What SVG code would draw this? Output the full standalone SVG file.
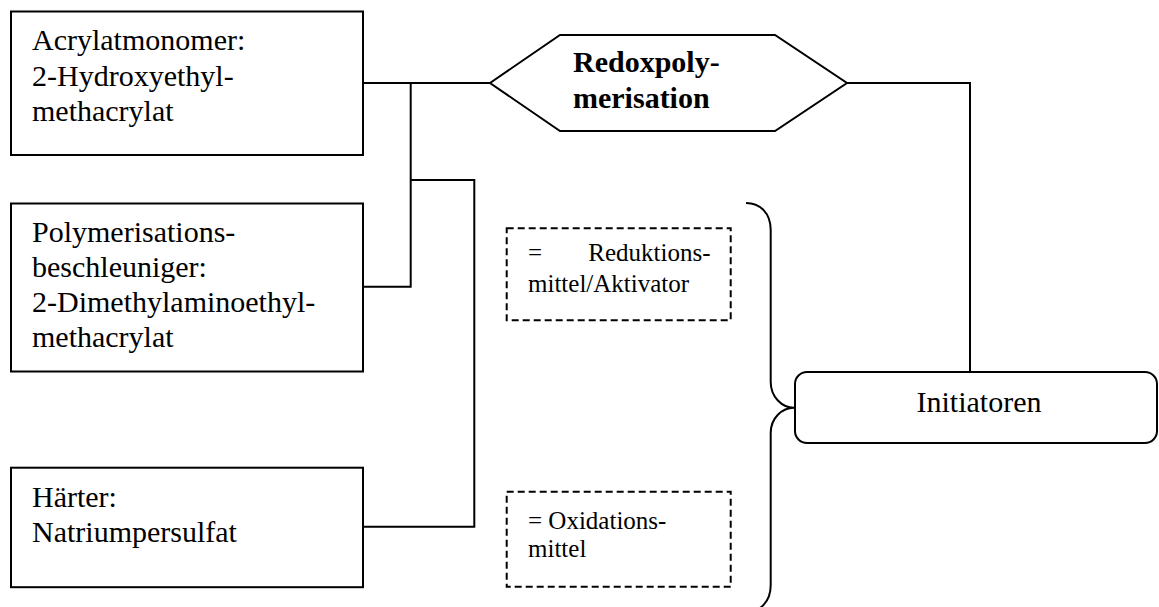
<svg xmlns="http://www.w3.org/2000/svg" width="1159" height="607" viewBox="0 0 1159 607">
<style>
  .box { fill: #fff; stroke: #000; stroke-width: 2; }
  .dash { fill: none; stroke: #000; stroke-width: 2; stroke-dasharray: 7 4; }
  .line { fill: none; stroke: #000; stroke-width: 2; }
  .t { font-family: "Liberation Serif", "Times New Roman", serif; font-size: 30px; fill: #000; }
  .tb { font-family: "Liberation Serif", "Times New Roman", serif; font-size: 30px; font-weight: bold; fill: #000; }
  .ts { font-family: "Liberation Serif", "Times New Roman", serif; font-size: 25px; fill: #000; }
</style>
<rect width="1159" height="607" fill="#fff"/>
<g id="connectors">
  <polyline class="line" points="363,83 490,83"/>
  <polyline class="line" points="410.7,83 410.7,286.7 363,286.7"/>
  <polyline class="line" points="410.7,180 474.3,180 474.3,526.7 363,526.7"/>
  <polyline class="line" points="847,83 970,83 970,372"/>
  <path class="line" d="M746,203 C760,203 770.7,213 770.7,230 L770.7,382 C770.7,397 782,407.7 794,407.7 C782,407.7 770.7,418 770.7,433 L770.7,585 C770.7,602 760,612 746,612"/>
</g>
<g id="acrylatmonomer">
  <rect class="box" x="11" y="11.5" width="352" height="143.5"/>
  <text class="t" x="32" y="50">Acrylatmonomer:</text>
  <text class="t" x="32" y="86">2-Hydroxyethyl-</text>
  <text class="t" x="32" y="121">methacrylat</text>
</g>
<g id="beschleuniger">
  <rect class="box" x="11" y="203.5" width="352" height="168"/>
  <text class="t" x="32" y="241.7">Polymerisations-</text>
  <text class="t" x="32" y="277">beschleuniger:</text>
  <text class="t" x="32" y="311.7">2-Dimethylaminoethyl-</text>
  <text class="t" x="32" y="346.7">methacrylat</text>
</g>
<g id="haerter">
  <rect class="box" x="11" y="467.7" width="352" height="119.5"/>
  <text class="t" x="32" y="506.7">Härter:</text>
  <text class="t" x="32" y="541.7">Natriumpersulfat</text>
</g>
<g id="redoxpolymerisation">
  <polygon class="box" points="490,83 560,35 775,35 847,83 775,131 560,131"/>
  <text class="tb" x="573" y="71.7">Redoxpoly-</text>
  <text class="tb" x="573" y="108">merisation</text>
</g>
<g id="reduktionsmittel">
  <rect class="dash" x="506.7" y="228.3" width="224" height="92"/>
  <text class="ts" x="528" y="260.7">=</text>
  <text class="ts" x="710.5" y="260.7" text-anchor="end">Reduktions-</text>
  <text class="ts" x="528" y="291.7">mittel/Aktivator</text>
</g>
<g id="oxidationsmittel">
  <rect class="dash" x="506.7" y="491.7" width="224" height="95"/>
  <text class="ts" x="528" y="529.3">= Oxidations-</text>
  <text class="ts" x="528" y="557">mittel</text>
</g>
<g id="initiatoren">
  <rect class="box" x="795" y="372" width="362" height="71" rx="12" ry="12"/>
  <text class="t" x="979" y="412.3" text-anchor="middle">Initiatoren</text>
</g>
</svg>
